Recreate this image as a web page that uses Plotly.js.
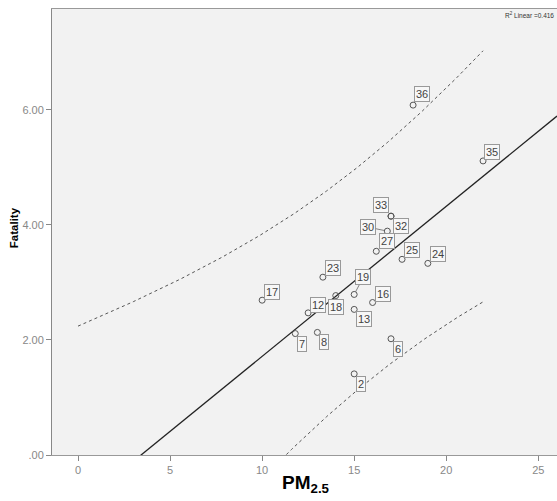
<!DOCTYPE html>
<html>
<head>
<meta charset="utf-8">
<script src="https://cdn.plot.ly/plotly-3.0.1.min.js"></script>
<style>html,body{margin:0;padding:0;background:#fff;}#chart{width:557px;height:501px;}</style>
</head>
<body>
<div id="chart"></div>
<script>
// ---- data ----
const caseIds  = ['2','6','7','8','12','13','16','17','18','19','23','24','25','27','30','32','33','35','36'];
const pm25     = [15.0,17.0,11.8,13.0,12.5,15.0,16.0,10.0,14.0,15.0,13.3,19.0,17.6,16.2,16.8,17.0,17.0,22.0,18.2];
const fatality = [1.41,2.02,2.11,2.13,2.47,2.53,2.65,2.69,2.77,2.79,3.09,3.33,3.40,3.54,3.89,4.15,4.15,5.11,6.08];
const xTickVals = [0,5,10,15,20,25];
const yTickVals = [0,2,4,6];
const yTickText = ['.00','2.00','4.00','6.00'];
const xTitle = '<b>PM<sub>2.5</sub></b>';
const yTitle = '<b>Fatality</b>';

// ---- label placement (pixel offsets of the label box from its point) ----
const labelOffsets = {
  '2':[7,10],'6':[7,10],'7':[7,10],'8':[7,10],'12':[10,-8],'13':[10,10],'16':[10,-9],
  '17':[10,-8],'18':[0,11],'19':[9,-17],'23':[10,-9],'24':[10,-9],'25':[10,-9],
  '27':[11,-10],'30':[-19,-4],'32':[10,10],'33':[-10,-11],'35':[9,-9],'36':[9,-11]
};
const connectors = {'19':true,'30':true};

// ---- statistics (linear fit + 95% prediction interval) ----
const n = pm25.length;
const mx = pm25.reduce((a,b)=>a+b,0)/n;
const my = fatality.reduce((a,b)=>a+b,0)/n;
let sxx=0, sxy=0, syy=0;
for (let i=0;i<n;i++){const dx=pm25[i]-mx, dy=fatality[i]-my; sxx+=dx*dx; sxy+=dx*dy; syy+=dy*dy;}
const slope = sxy/sxx, intercept = my - slope*mx;
const r2 = sxy*sxy/(sxx*syy);
const s = Math.sqrt(syy*(1-r2)/(n-2));
const tCrit = 2.110; // t(0.975, df=17)
const xRange = [-1.413, 26.016];
const fitX = [xRange[0], xRange[1]];
const fitY = fitX.map(x=>intercept+slope*x);
const piX=[], piUp=[], piLo=[];
for (let x=0; x<=22.0001; x+=0.1){
  const yh = intercept+slope*x;
  const hw = tCrit*s*Math.sqrt(1+1/n+(x-mx)*(x-mx)/sxx);
  piX.push(x); piUp.push(yh+hw); piLo.push(yh-hw);
}

const FONT = 'Liberation Sans, Arial, sans-serif';
const traces = [
  {x:piX, y:piUp, mode:'lines', line:{color:'#555', width:1, dash:'3px,3px'}, hoverinfo:'skip'},
  {x:piX, y:piLo, mode:'lines', line:{color:'#555', width:1, dash:'3px,3px'}, hoverinfo:'skip'},
  {x:fitX, y:fitY, mode:'lines', line:{color:'#222', width:1.3}, hoverinfo:'skip'},
  {x:pm25, y:fatality, text:caseIds, mode:'markers',
   marker:{symbol:'circle-open', size:6, color:'#555', line:{width:1}}}
];

const annotations = caseIds.map((id,i)=>({
  x:pm25[i], y:fatality[i], xref:'x', yref:'y', text:id,
  showarrow:true, arrowhead:0, arrowwidth:0.8, standoff:3,
  arrowcolor: connectors[id] ? '#666' : 'rgba(0,0,0,0)',
  ax:labelOffsets[id][0], ay:labelOffsets[id][1],
  font:{family:FONT, size:11, color:'#444'},
  bordercolor:'#999', borderwidth:1, borderpad:1, bgcolor:'#f7f7f7'
}));
annotations.push({
  xref:'paper', yref:'paper', x:(503-52)/505, y:1-(15-9)/446, xanchor:'left', yanchor:'middle',
  text:'R<sup>2</sup> Linear =' + r2.toFixed(3), showarrow:false,
  font:{family:FONT, size:6.5, color:'#333'}
});
// axis titles
annotations.push({
  xref:'paper', yref:'paper', x:(306-52)/505, y:(455-484)/446, xanchor:'center', yanchor:'middle',
  text:xTitle, showarrow:false, font:{family:FONT, size:19, color:'#000'}
});
annotations.push({
  xref:'paper', yref:'paper', x:(13.5-52)/505, y:(455-227.7)/446, xanchor:'center', yanchor:'middle',
  text:yTitle, textangle:-90, showarrow:false, font:{family:FONT, size:11.5, color:'#000'}
});

const layout = {
  width:557, height:501,
  margin:{l:52, r:0, t:9, b:46},
  paper_bgcolor:'#ffffff', plot_bgcolor:'#f2f2f2',
  showlegend:false,
  font:{family:FONT},
  xaxis:{range:xRange, tickvals:xTickVals, ticks:'outside', ticklen:5, tickcolor:'#888',
    showgrid:false, zeroline:false, showline:true, linecolor:'#999', linewidth:1, mirror:true,
    tickfont:{family:FONT, size:11, color:'#888'}},
  yaxis:{range:[0,7.75], tickvals:yTickVals, ticktext:yTickText, ticks:'outside', ticklen:5, tickcolor:'#888',
    showgrid:false, zeroline:false, showline:true, linecolor:'#888', linewidth:1,
    tickfont:{family:FONT, size:11, color:'#888'}},
  annotations:annotations
};
Plotly.newPlot('chart', traces, layout, {displayModeBar:false, staticPlot:true});
</script>
</body>
</html>
